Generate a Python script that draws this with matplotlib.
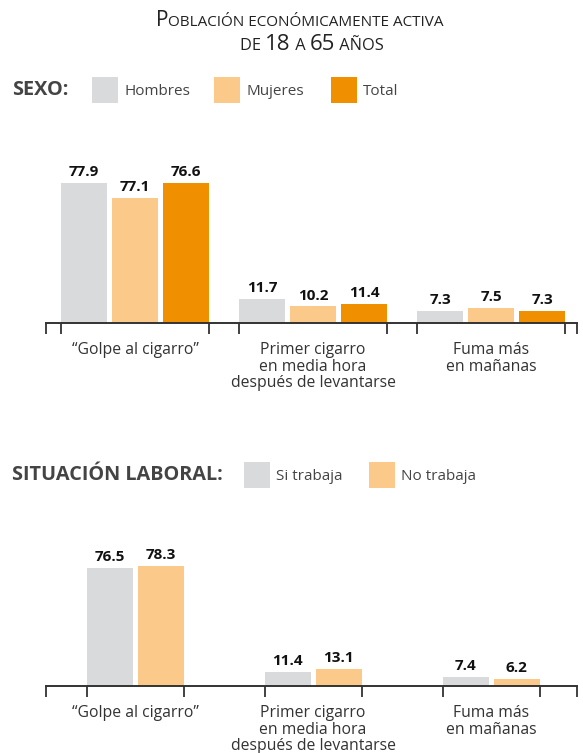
import matplotlib
matplotlib.use("Agg")
import matplotlib.pyplot as plt
import numpy as np
from matplotlib.patches import Rectangle
from matplotlib.offsetbox import TextArea, HPacker, AnnotationBbox

plt.rcParams["font.family"] = ["Open Sans", "DejaVu Sans"]

W, H = 583, 753
GREY, PEACH, ORANGE, INK = "#d9dadb", "#fbca8a", "#f09000", "#333333"

# ---- data ----
categories = ["\u201cGolpe al cigarro\u201d", "Primer cigarro\nen media hora\ndespués de levantarse",
              "Fuma más\nen mañanas"]
# printed values
hombres = [77.9, 11.7, 7.3]
mujeres = [77.1, 10.2, 7.5]
total = [76.6, 11.4, 7.3]
si_trabaja = [76.5, 11.4, 7.4]
no_trabaja = [78.3, 13.1, 6.2]
# bar heights as drawn in the original graphic (not always proportional to the label)
hombres_h = [77.9, 13.4, 6.7]
mujeres_h = [69.6, 9.2, 8.3]
total_h = [77.9, 10.6, 6.7]
si_trabaja_h = [76.5, 9.2, 6.0]
no_trabaja_h = [77.6, 11.0, 4.7]

def px(x, y):
    return x / W, 1 - y / H

fig = plt.figure(figsize=(W / 100, H / 100), dpi=100)

unit = 178.0          # pixels between group centres
bw = 46 / unit        # bar width
step = 51 / unit      # bar pitch
xlim = (-0.5, 2.483)

def panel(base_px, top_px, ymax, heights, labels_vals, colors):
    l, b = px(46, base_px)
    ax = fig.add_axes([l, b, (577 - 46) / W, (base_px - top_px) / H])
    x = np.arange(len(categories))
    n = len(heights)
    offs = (np.arange(n) - (n - 1) / 2) * step
    for o, h, v, c in zip(offs, heights, labels_vals, colors):
        ax.bar(x + o, h, width=bw, color=c, linewidth=0)
        for xi, hi, vi in zip(x + o, h, v):
            ax.annotate(f"{vi:.1f}", (xi, hi), xytext=(0, 5), textcoords="offset points",
                        ha="center", va="baseline", fontsize=11, fontweight="bold", color="#111")
    edge = offs[-1] + bw / 2
    ticks = [xlim[0]] + [t for xi in x for t in (xi - edge, xi + edge)] + [xlim[1]]
    ax.set_xticks(ticks)
    ax.set_xticklabels([])
    ax.tick_params(axis="x", direction="out", length=8, width=1.3, color=INK)
    ax.set_yticks([])
    for s in ["top", "left", "right"]:
        ax.spines[s].set_visible(False)
    ax.spines["bottom"].set_color(INK)
    ax.spines["bottom"].set_linewidth(1.4)
    ax.set_xlim(*xlim)
    ax.set_ylim(0, ymax)
    ax.patch.set_alpha(0)
    for xi, cat in zip(x, categories):
        ax.annotate(cat, (xi, 0), xytext=(0, -14), textcoords="offset points",
                    ha="center", va="top", fontsize=11.3, color=INK, linespacing=1.02)
    return ax

panel(323, 150, 173 / 1.797, [hombres_h, mujeres_h, total_h],
      [hombres, mujeres, total], [GREY, PEACH, ORANGE])
panel(686, 540, 146 / 1.546, [si_trabaja_h, no_trabaja_h],
      [si_trabaja, no_trabaja], [GREY, PEACH])

# ---- legends ----
def legend_row(yc, head, items):
    fig.text(*px(12, yc), head, fontsize=14.3, fontweight="bold", color="#444", va="center", ha="left")
    for sx, txt, col in items:
        x0, y0 = px(sx, yc + 13)
        fig.add_artist(Rectangle((x0, y0), 26 / W, 26 / H, transform=fig.transFigure,
                                 color=col, linewidth=0))
        fig.text(*px(sx + 32, yc + 1.5), txt, fontsize=11, color="#444", va="center", ha="left")

legend_row(90, "SEXO:", [(92, "Hombres", GREY), (214, "Mujeres", PEACH), (331, "Total", ORANGE)])
legend_row(475, "SITUACIÓN LABORAL:", [(244, "Si trabaja", GREY), (369, "No trabaja", PEACH)])

# ---- small-caps title ----
def smallcaps(parts, xc, yc, big_fs, small_fs):
    kids = [TextArea(t, textprops=dict(fontsize=(big_fs if big else small_fs), color="#222"))
            for t, big in parts]
    box = HPacker(children=kids, align="baseline", pad=0, sep=0)
    ab = AnnotationBbox(box, px(xc, yc), xycoords="figure fraction", frameon=False,
                        box_alignment=(0.5, 0.5))
    fig.add_artist(ab)

smallcaps([("P", True), ("OBLACIÓN ECONÓMICAMENTE ACTIVA", False)], 300, 20, 15, 11)
smallcaps([("DE ", False), ("18", True), (" A ", False), ("65", True), (" AÑOS", False)],
          312, 45, 16, 11.8)

fig.savefig("out.png", dpi=100)
